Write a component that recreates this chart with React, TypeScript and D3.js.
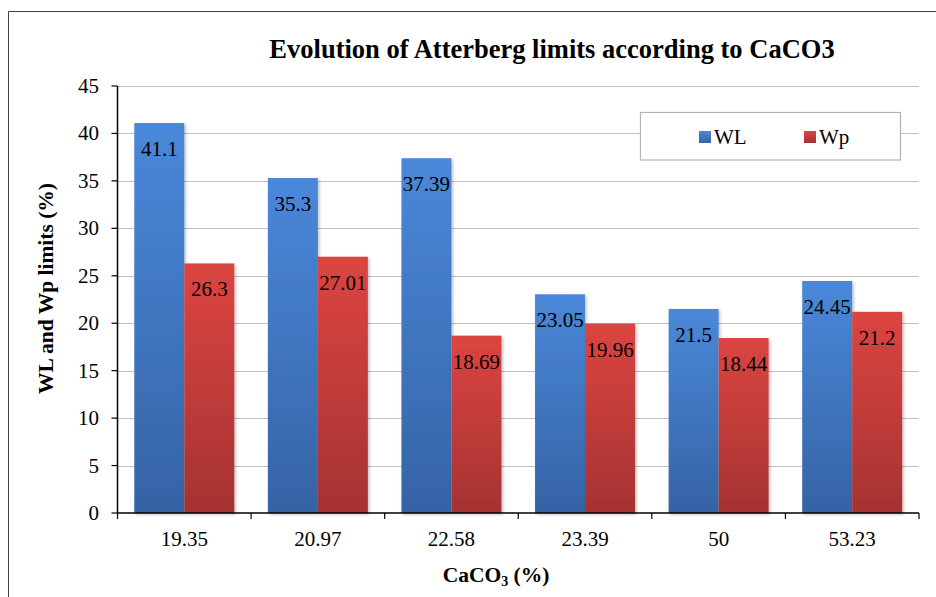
import React from "react";
import * as d3 from "d3";

const categories = ["19.35", "20.97", "22.58", "23.39", "50", "53.23"];
const wlValues = [41.1, 35.3, 37.39, 23.05, 21.5, 24.45];
const wpValues = [26.3, 27.01, 18.69, 19.96, 18.44, 21.2];
const wlLabels = ["41.1", "35.3", "37.39", "23.05", "21.5", "24.45"];
const wpLabels = ["26.3", "27.01", "18.69", "19.96", "18.44", "21.2"];
const yTicks = [0, 5, 10, 15, 20, 25, 30, 35, 40, 45];
const seriesNames = ["WL", "Wp"];

const W = 936;
const H = 597;
const left = 117.5;
const right = 919;
const top = 86;
const bottom = 513;

export default function App() {
  const x = d3.scaleBand<string>().domain(categories).range([left, right]).paddingInner(0).paddingOuter(0);
  const y = d3.scaleLinear().domain([0, 45]).range([bottom, top]);
  const gap = 16.8;
  const barW = (x.bandwidth() - 2 * gap) / 2;
  const font = "Liberation Serif, Times New Roman, Times, DejaVu Serif, serif";
  const series = [
    { name: seriesNames[0], values: wlValues, labels: wlLabels, grad: "gBlue" },
    { name: seriesNames[1], values: wpValues, labels: wpLabels, grad: "gRed" },
  ];
  return (
    <svg width={W} height={H} style={{ position: "absolute", left: 0, top: 0, fontFamily: font }}>
      <defs>
        <linearGradient id="gBlue" x1="0" y1="0" x2="0" y2="1">
          <stop offset="0" stopColor="#4a88d9" />
          <stop offset="1" stopColor="#3563a5" />
        </linearGradient>
        <linearGradient id="gRed" x1="0" y1="0" x2="0" y2="1">
          <stop offset="0" stopColor="#dc4541" />
          <stop offset="1" stopColor="#a53232" />
        </linearGradient>
        <filter id="sh" x="-20%" y="-5%" width="140%" height="110%">
          <feDropShadow dx="1.5" dy="1.5" stdDeviation="1.5" floodColor="#000" floodOpacity="0.25" />
        </filter>
      </defs>
      <rect x={0} y={0} width={W} height={H} fill="#fff" />
      <path d={`M8.5,${H} V11.5 H${W}`} fill="none" stroke="#404040" strokeWidth={1} />
      <text x={552} y={58} textAnchor="middle" fontSize={26.5} fontWeight="bold" fill="#000" style={{ fontFamily: font }}>
        Evolution of Atterberg limits according to CaCO3
      </text>
      {yTicks.filter((t) => t > 0).map((t) => (
        <line key={"g" + t} x1={left} x2={right} y1={Math.round(y(t)) + 0.5} y2={Math.round(y(t)) + 0.5} stroke="#c0c0c0" strokeWidth={1} />
      ))}
      {series.map((s, si) =>
        categories.map((c, i) => {
          const bx = (x(c) as number) + gap + si * barW;
          const by = y(s.values[i]);
          return (
            <rect key={s.name + c} x={bx} y={by} width={barW} height={bottom - by} fill={`url(#${s.grad})`} filter="url(#sh)" />
          );
        })
      )}
      {series.map((s, si) =>
        categories.map((c, i) => {
          const bx = (x(c) as number) + gap + si * barW;
          const by = y(s.values[i]);
          return (
            <text key={"l" + s.name + c} x={bx + barW / 2} y={by + 33} textAnchor="middle" fontSize={21} fill="#000" style={{ fontFamily: font }}>
              {s.labels[i]}
            </text>
          );
        })
      )}
      <line x1={left} x2={left} y1={top} y2={bottom} stroke="#000" strokeWidth={1.5} />
      <line x1={left} x2={right} y1={bottom} y2={bottom} stroke="#000" strokeWidth={1.5} />
      {yTicks.map((t) => (
        <g key={"yt" + t}>
          <line x1={left - 6} x2={left} y1={y(t)} y2={y(t)} stroke="#000" strokeWidth={1.2} />
          <text x={99} y={y(t) + 7} textAnchor="end" fontSize={21} fill="#000" style={{ fontFamily: font }}>{t}</text>
        </g>
      ))}
      {[...categories.map((c) => x(c) as number), right].map((v, i) => (
        <line key={"xt" + i} x1={v} x2={v} y1={bottom} y2={bottom + 6} stroke="#000" strokeWidth={1.2} />
      ))}
      {categories.map((c) => (
        <text key={"xl" + c} x={(x(c) as number) + x.bandwidth() / 2} y={546} textAnchor="middle" fontSize={21} fill="#000" style={{ fontFamily: font }}>{c}</text>
      ))}
      <text transform={`translate(53,288.5) rotate(-90)`} textAnchor="middle" fontSize={21.5} fontWeight="bold" fill="#000" style={{ fontFamily: font }}>
        WL and Wp limits (%)
      </text>
      <text x={496} y={582} textAnchor="middle" fontSize={21.5} fontWeight="bold" fill="#000" style={{ fontFamily: font }}>
        CaCO<tspan fontSize={14} dy={4}>3</tspan><tspan dy={-4}> (%)</tspan>
      </text>
      <rect x={640.5} y={112.5} width={260} height={47.5} fill="#fff" stroke="#b4b4b4" strokeWidth={1.2} />
      <rect x={699} y={131} width={12} height={12} fill="url(#gBlue)" />
      <text x={714} y={144} fontSize={21} fill="#000" style={{ fontFamily: font }}>{seriesNames[0]}</text>
      <rect x={804} y={131} width={12} height={12} fill="url(#gRed)" />
      <text x={819} y={144} fontSize={21} fill="#000" style={{ fontFamily: font }}>{seriesNames[1]}</text>
    </svg>
  );
}
